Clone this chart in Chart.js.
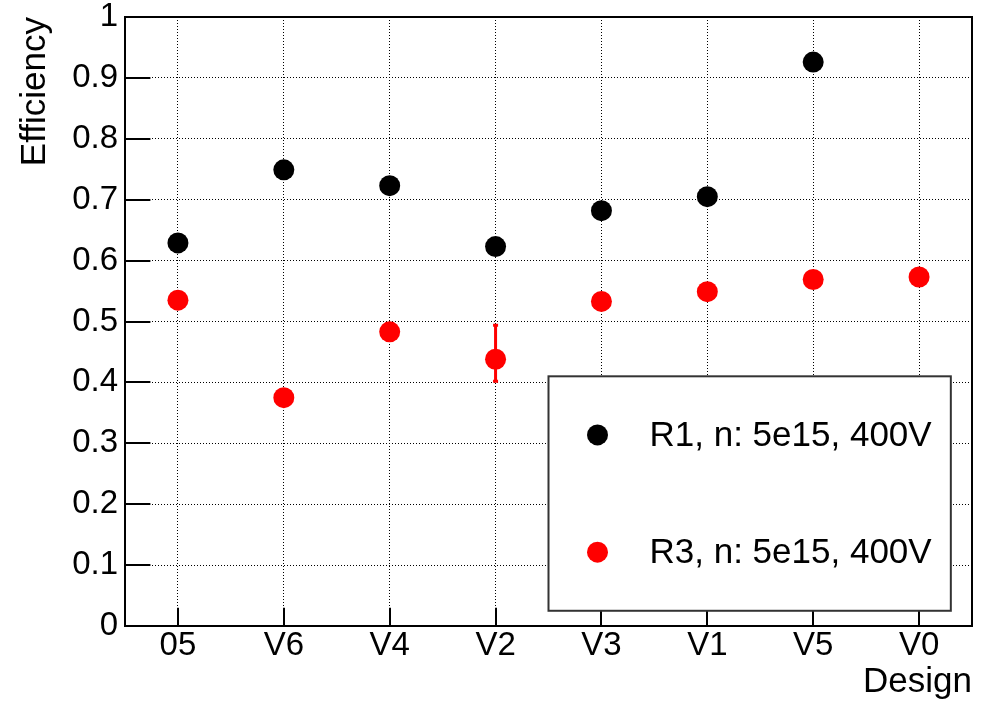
<!DOCTYPE html>
<html>
<head>
<meta charset="utf-8">
<script src="https://cdn.jsdelivr.net/npm/chart.js@4/dist/chart.umd.min.js"></script>
<style>
  html, body { margin: 0; padding: 0; background: #fff; }
  #wrap { width: 985px; height: 703px; position: relative; }
</style>
</head>
<body>
<div id="wrap"><canvas id="eff"></canvas></div>
<script>
const designs = ['05', 'V6', 'V4', 'V2', 'V3', 'V1', 'V5', 'V0'];

const r1Label = 'R1, n: 5e15, 400V';
const r1Eff = [0.629, 0.749, 0.723, 0.623, 0.682, 0.705, 0.926, null];

const r3Label = 'R3, n: 5e15, 400V';
const r3Eff = [0.535, 0.375, 0.483, 0.438, 0.533, 0.549, 0.569, 0.573];
// error bar bounds, null where the bar hides behind the marker
const r3ErrLow = [null, null, null, 0.402, null, null, null, null];
const r3ErrHigh = [null, null, null, 0.494, null, null, null, null];

const yTicks = [0, 0.1, 0.2, 0.3, 0.4, 0.5, 0.6, 0.7, 0.8, 0.9, 1];

const FONT = '"Liberation Sans", Arial, Helvetica, sans-serif';

// frame, inner ticks and error bars, ROOT style
const frameAndErrors = {
    id: 'frameAndErrors',
    beforeDatasetsDraw(chart) {
        const ctx = chart.ctx;
        const a = chart.chartArea;
        const x = chart.scales.x;
        const y = chart.scales.y;
        ctx.save();
        ctx.strokeStyle = '#000';
        ctx.lineWidth = 2;
        ctx.beginPath();
        // y ticks pointing inwards
        yTicks.forEach(v => {
            const py = Math.round(y.getPixelForValue(v));
            ctx.moveTo(a.left, py);
            ctx.lineTo(a.left + 0.03 * (a.right - a.left), py);
        });
        // x ticks at the categories
        designs.forEach((d, i) => {
            const px = Math.round(x.getPixelForValue(i));
            ctx.moveTo(px, a.bottom);
            ctx.lineTo(px, a.bottom - 0.03 * (a.bottom - a.top));
        });
        ctx.stroke();
        ctx.strokeRect(a.left, a.top, a.right - a.left, a.bottom - a.top);

        // error bars of R3
        ctx.strokeStyle = '#ff0000';
        ctx.lineWidth = 3;
        r3Eff.forEach((v, i) => {
            if (r3ErrLow[i] == null || r3ErrHigh[i] == null) return;
            const px = x.getPixelForValue(i);
            const lo = y.getPixelForValue(r3ErrLow[i]);
            const hi = y.getPixelForValue(r3ErrHigh[i]);
            ctx.beginPath();
            ctx.moveTo(px, lo);
            ctx.lineTo(px, hi);
            ctx.moveTo(px - 2.5, lo);
            ctx.lineTo(px + 2.5, lo);
            ctx.moveTo(px - 2.5, hi);
            ctx.lineTo(px + 2.5, hi);
            ctx.stroke();
        });
        ctx.restore();
    }
};

// boxed legend in the lower right of the frame
const boxLegend = {
    id: 'boxLegend',
    afterDatasetsDraw(chart) {
        const ctx = chart.ctx;
        const a = chart.chartArea;
        const w = a.right - a.left;
        const h = a.bottom - a.top;
        const x1 = a.left + 0.5 * w, x2 = a.left + 0.975 * w;
        const y1 = a.top + 0.59 * h, y2 = a.top + 0.975 * h;
        ctx.save();
        ctx.fillStyle = '#fff';
        ctx.fillRect(x1, y1, x2 - x1, y2 - y1);
        ctx.strokeStyle = '#333';
        ctx.lineWidth = 2;
        ctx.strokeRect(x1, y1, x2 - x1, y2 - y1);
        const rows = chart.data.datasets;
        const rowH = (y2 - y1) / rows.length;
        ctx.font = '35px ' + FONT;
        ctx.textBaseline = 'middle';
        ctx.textAlign = 'left';
        rows.forEach((ds, k) => {
            const cy = y1 + rowH * (k + 0.5);
            ctx.fillStyle = ds.backgroundColor;
            ctx.beginPath();
            ctx.arc(x1 + 49, cy, 10.5, 0, Math.PI * 2);
            ctx.fill();
            ctx.fillStyle = '#000';
            ctx.fillText(ds.label, x1 + 101, cy + 1);
        });
        ctx.restore();
    }
};

const ctx = document.getElementById('eff').getContext('2d');

new Chart(ctx, {
    type: 'line',
    data: {
        labels: designs,
        datasets: [{
            label: r1Label,
            data: r1Eff,
            showLine: false,
            backgroundColor: '#000000',
            borderColor: '#000000',
            pointRadius: 10.5,
            pointBorderWidth: 0
        }, {
            label: r3Label,
            data: r3Eff,
            showLine: false,
            backgroundColor: '#ff0000',
            borderColor: '#ff0000',
            pointRadius: 10.5,
            pointBorderWidth: 0
        }]
    },
    options: {
        responsive: true,
        maintainAspectRatio: false,
        animation: false,
        layout: {
            padding: { left: 0, right: 13, top: 17, bottom: 0 }
        },
        plugins: {
            legend: { display: false },
            tooltip: { enabled: false }
        },
        scales: {
            x: {
                offset: true,
                grid: {
                    offset: false,
                    color: '#000',
                    lineWidth: 1,
                    drawTicks: false
                },
                border: { display: false, dash: [1, 2] },
                ticks: {
                    color: '#000',
                    padding: 0,
                    font: { family: FONT, size: 33 }
                },
                title: {
                    display: true,
                    text: 'Design',
                    align: 'end',
                    color: '#000',
                    padding: 0,
                    font: { family: FONT, size: 35 }
                },
                afterFit(scale) {
                    scale.height = 77;
                    scale.paddingLeft = 0;
                    scale.paddingRight = 0;
                }
            },
            y: {
                min: 0,
                max: 1,
                grid: {
                    color: '#000',
                    lineWidth: 1,
                    drawTicks: false
                },
                border: { display: false, dash: [1, 2] },
                afterBuildTicks(scale) {
                    scale.ticks = yTicks.map(v => ({ value: v }));
                },
                ticks: {
                    color: '#000',
                    padding: 7,
                    font: { family: FONT, size: 33 },
                    callback: v => String(+v.toFixed(1))
                },
                title: {
                    display: true,
                    text: 'Efficiency',
                    align: 'end',
                    color: '#000',
                    padding: { top: 14, bottom: 0 },
                    font: { family: FONT, size: 35 }
                },
                afterFit(scale) {
                    scale.width = 125;
                    scale.paddingTop = 0;
                    scale.paddingBottom = 0;
                }
            }
        }
    },
    plugins: [frameAndErrors, boxLegend]
});
</script>
</body>
</html>
